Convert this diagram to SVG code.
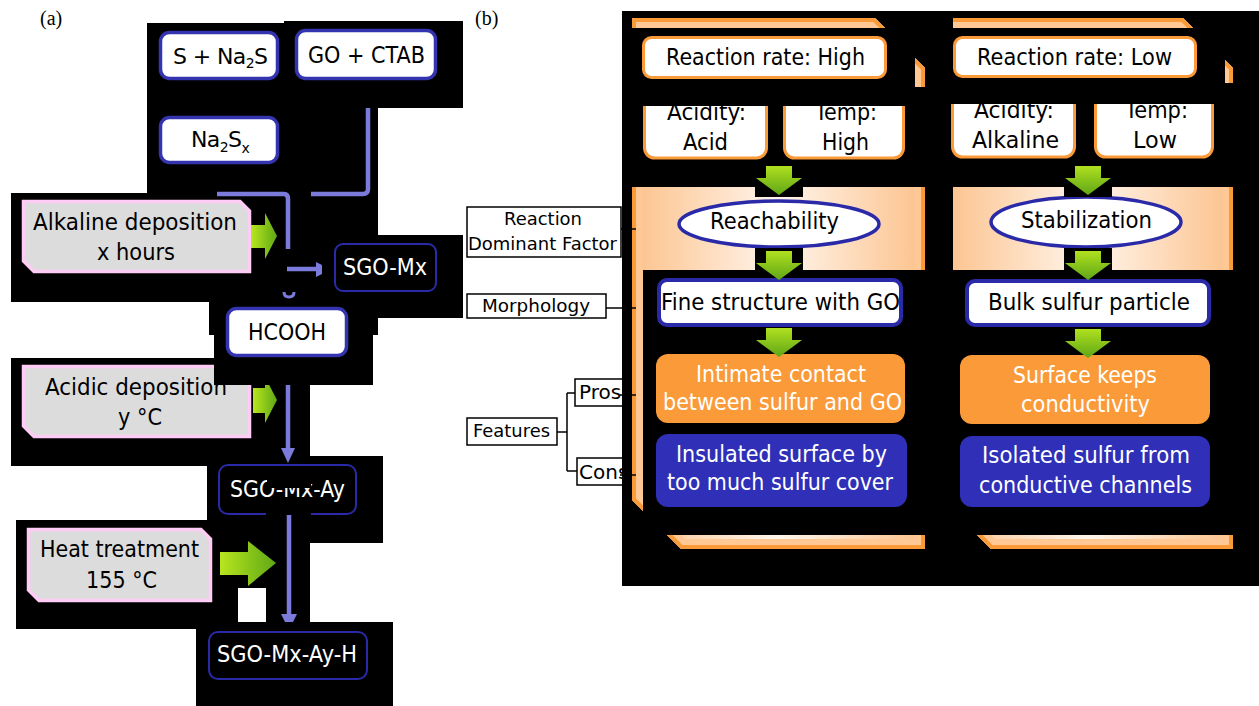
<svg xmlns="http://www.w3.org/2000/svg" width="1259" height="706" viewBox="0 0 1259 706">
<style>
.t{font-family:"DejaVu Sans",sans-serif;font-size:22.5px;text-anchor:middle;fill:#000}
.w{fill:#fff}
.s{text-anchor:start}
.sub{font-size:22px;letter-spacing:-0.6px}
.lb{font-size:18px}
.pc{font-size:20px}
.pl{font-family:"Liberation Serif",serif;font-size:20px;fill:#000}
.k{fill:#000}
.nb{fill:#fff;stroke:#3434b0;stroke-width:3.5}
.nd{fill:none;stroke:#2a2aa8;stroke-width:2}
.pk{fill:#dcdcdc;stroke:#ffccf5;stroke-width:3.5}
.no{fill:#fff;stroke:#fb9a38;stroke-width:3}
.el{fill:#fff;stroke:#2a2aa8;stroke-width:3.5}
.fo{fill:#fb9a38}
.fb{fill:#2f2fb8}
.lab{fill:#fff;stroke:#000;stroke-width:1.5}
.con{stroke:#7b7bdc;stroke-width:4.5;fill:none}
.cf{fill:#7b7bdc}
.ln{stroke:#000;stroke-width:1.5;fill:none}
.ga{fill:url(#gr)}
.gd{fill:url(#gdn)}
</style>
<defs>
<linearGradient id="gr" x1="0" y1="0" x2="1" y2="0"><stop offset="0" stop-color="#b8e61e"/><stop offset="1" stop-color="#5fa816"/></linearGradient>
<linearGradient id="gdn" x1="0" y1="0" x2="0" y2="1"><stop offset="0" stop-color="#b0e020"/><stop offset="1" stop-color="#5fa616"/></linearGradient>
<linearGradient id="band" x1="0" y1="0" x2="1" y2="0"><stop offset="0" stop-color="#fcc28c"/><stop offset="0.5" stop-color="#fff5ec"/><stop offset="1" stop-color="#fcc28c"/></linearGradient>
<clipPath id="c1"><path d="M632,18 H875 L925,68 V549 H681 L632,500 Z"/></clipPath>
<clipPath id="c2"><path d="M943,18 H1183 L1233,68 V549 H991 L943,501 Z"/></clipPath>
</defs>
<rect width="1259" height="706" fill="#fff"/>
<text class="pl" x="40" y="25">(a)</text>
<text class="pl" x="475" y="25">(b)</text>

<g id="backdrop-a">
<rect class="k" x="147" y="23" width="137" height="170"/>
<rect class="k" x="284" y="21" width="179" height="87"/>
<rect class="k" x="284" y="108" width="94" height="127"/>
<rect class="k" x="11" y="193" width="289" height="109"/>
<rect class="k" x="290" y="235" width="173" height="83"/>
<rect class="k" x="209" y="302" width="169" height="33"/>
<rect class="k" x="214" y="335" width="159" height="23"/>
<rect class="k" x="11" y="358" width="299" height="108"/>
<rect class="k" x="207" y="456" width="176" height="87"/>
<path class="k" fill-rule="evenodd" d="M16,520 H310 V629 H16 Z M238,588 V622 H266 V588 Z"/>
<rect class="k" x="196" y="622" width="197" height="84"/>
</g>

<g id="label-reaction">
<rect class="lab" x="467" y="207" width="154" height="50"/>
<text class="t lb" x="543" y="225" textLength="78" lengthAdjust="spacingAndGlyphs">Reaction</text>
<text class="t lb" x="542.5" y="250" textLength="149" lengthAdjust="spacingAndGlyphs">Dominant Factor</text>
</g>
<g id="label-morphology">
<rect class="lab" x="467" y="294" width="139" height="24"/>
<text class="t lb" x="536" y="312" textLength="108" lengthAdjust="spacingAndGlyphs">Morphology</text>
</g>
<g id="label-features">
<rect class="lab" x="467" y="418" width="90" height="27"/>
<text class="t lb" x="511.5" y="437" textLength="77" lengthAdjust="spacingAndGlyphs">Features</text>
</g>
<g id="label-pros">
<rect class="lab" x="575" y="379" width="70" height="27"/>
<text class="t pc s" x="579" y="399">Pros</text>
</g>
<g id="label-cons">
<rect class="lab" x="577" y="458" width="70" height="27"/>
<text class="t pc s" x="579" y="479">Cons</text>
</g>

<g id="backdrop-b">
<rect class="k" x="622" y="11" width="637" height="575"/>
</g>

<g id="frame-high">
<path d="M632,18 H875 L925,68 V549 H681 L632,500 Z" fill="url(#band)"/>
<path d="M632,18 H875 L925,68 V549 H681 L632,500 Z" fill="none" stroke="#ffc894" stroke-width="20" clip-path="url(#c1)"/>
<path d="M632,18 H875 L925,68 V549 H681 L632,500 Z" fill="none" stroke="#fb9a38" stroke-width="8" clip-path="url(#c1)"/>
</g>
<g id="frame-low">
<path d="M943,18 H1183 L1233,68 V549 H991 L943,501 Z" fill="url(#band)"/>
<path d="M943,18 H1183 L1233,68 V549 H991 L943,501 Z" fill="none" stroke="#ffc894" stroke-width="20" clip-path="url(#c2)"/>
<path d="M943,18 H1183 L1233,68 V549 H991 L943,501 Z" fill="none" stroke="#fb9a38" stroke-width="8" clip-path="url(#c2)"/>
</g>

<g id="backdrop-b-overlays">
<rect class="k" x="622" y="28" width="293" height="159"/>
<rect class="k" x="905" y="87" width="48" height="100"/>
<rect class="k" x="643" y="270" width="310" height="265"/>
<rect class="k" x="926" y="11" width="27" height="575"/>
<rect class="k" x="953" y="28" width="272" height="159"/>
<rect class="k" x="1215" y="83" width="44" height="104"/>
<rect class="k" x="953" y="270" width="306" height="265"/>
</g>

<g id="node-s-na2s">
<rect class="nb" x="160.5" y="32.5" width="117" height="46" rx="9"/>
<text class="t s sub" x="173" y="64">S + Na<tspan font-size="14" dy="4">2</tspan><tspan dy="-4">S</tspan></text>
</g>
<g id="node-go-ctab">
<rect class="nb" x="296.5" y="30.5" width="139" height="48" rx="9"/>
<text class="t" x="366.5" y="63" textLength="117" lengthAdjust="spacingAndGlyphs">GO + CTAB</text>
</g>
<g id="node-na2sx">
<rect class="nb" x="160.5" y="117.5" width="117" height="45" rx="9"/>
<text class="t s sub" x="191" y="147">Na<tspan font-size="14" dy="5">2</tspan><tspan dy="-5">S</tspan><tspan font-size="14" dy="6">x</tspan></text>
</g>
<g id="node-alkaline">
<path class="pk" d="M23.5,201.5 H240 L249.5,211 V271.5 H34 L23.5,261 Z"/>
<text class="t" x="135" y="230" textLength="204" lengthAdjust="spacingAndGlyphs">Alkaline deposition</text>
<text class="t" x="136" y="260" textLength="78" lengthAdjust="spacingAndGlyphs">x hours</text>
</g>
<g id="node-sgo-mx">
<rect class="nd" x="335" y="244" width="101" height="47" rx="8"/>
<text class="t w" x="385" y="275" textLength="84" lengthAdjust="spacingAndGlyphs">SGO-Mx</text>
</g>
<g id="node-hcooh">
<rect class="nb" x="227.5" y="308.5" width="119" height="47" rx="9"/>
<text class="t" x="287" y="340" textLength="78" lengthAdjust="spacingAndGlyphs">HCOOH</text>
</g>
<g id="node-acidic">
<path class="pk" d="M23.5,366.5 H240 L249.5,376 V436.5 H34 L23.5,426 Z"/>
<text class="t" x="136" y="395" textLength="182" lengthAdjust="spacingAndGlyphs">Acidic deposition</text>
<text class="t" x="140" y="425" textLength="44" lengthAdjust="spacingAndGlyphs">y °C</text>
</g>
<g id="node-sgo-mx-ay">
<rect class="nd" x="219" y="465" width="137" height="49" rx="9"/>
<text class="t w" x="287.5" y="497" textLength="115" lengthAdjust="spacingAndGlyphs">SGO-Mx-Ay</text>
</g>
<g id="node-heat">
<path class="pk" d="M28.5,529.5 H201 L210.5,539 V600.5 H39 L28.5,590 Z"/>
<text class="t" x="119.5" y="557" textLength="159" lengthAdjust="spacingAndGlyphs">Heat treatment</text>
<text class="t" x="121.5" y="588" textLength="71" lengthAdjust="spacingAndGlyphs">155 °C</text>
</g>
<g id="node-sgo-mx-ay-h">
<rect class="nd" x="209" y="632" width="158" height="47" rx="9"/>
<text class="t w" x="287" y="662" textLength="140" lengthAdjust="spacingAndGlyphs">SGO-Mx-Ay-H</text>
</g>

<g id="node-rate-high">
<rect class="no" x="643.5" y="37.5" width="242" height="40" rx="8"/>
<text class="t" x="765.5" y="65" textLength="199" lengthAdjust="spacingAndGlyphs">Reaction rate: High</text>
</g>
<g id="node-acidity-acid">
<rect class="no" x="644.5" y="92" width="122" height="66" rx="10"/>
<text class="t" x="706.5" y="120" textLength="79" lengthAdjust="spacingAndGlyphs">Acidity:</text>
<text class="t" x="705.5" y="150" textLength="45" lengthAdjust="spacingAndGlyphs">Acid</text>
</g>
<g id="node-temp-high">
<rect class="no" x="784.5" y="92" width="119" height="66" rx="10"/>
<text class="t" x="846" y="120" textLength="62" lengthAdjust="spacingAndGlyphs">Temp:</text>
<text class="t" x="845.5" y="150" textLength="47" lengthAdjust="spacingAndGlyphs">High</text>
</g>
<g id="node-reachability">
<ellipse class="el" cx="779" cy="224" rx="100" ry="23"/>
<text class="t" x="774.5" y="229" textLength="129" lengthAdjust="spacingAndGlyphs">Reachability</text>
</g>
<g id="node-fine-structure">
<rect class="nb" x="659" y="280" width="242" height="45" rx="8" style="stroke-width:4;stroke:#2a2aa8"/>
<text class="t" x="780.5" y="310" textLength="239" lengthAdjust="spacingAndGlyphs">Fine structure with GO</text>
</g>
<g id="node-intimate">
<rect class="fo" x="656" y="354" width="249" height="69" rx="12"/>
<text class="t w" x="781" y="382" textLength="170" lengthAdjust="spacingAndGlyphs">Intimate contact</text>
<text class="t w" x="782.5" y="410" textLength="239" lengthAdjust="spacingAndGlyphs">between sulfur and GO</text>
</g>
<g id="node-insulated">
<rect class="fb" x="656" y="434" width="251" height="73" rx="12"/>
<text class="t w" x="781.5" y="462" textLength="211" lengthAdjust="spacingAndGlyphs">Insulated surface by</text>
<text class="t w" x="780" y="490" textLength="226" lengthAdjust="spacingAndGlyphs">too much sulfur cover</text>
</g>

<g id="node-rate-low">
<rect class="no" x="954.5" y="37.5" width="241" height="39" rx="8"/>
<text class="t" x="1074.5" y="65" textLength="195" lengthAdjust="spacingAndGlyphs">Reaction rate: Low</text>
</g>
<g id="node-acidity-alkaline">
<rect class="no" x="952.5" y="92" width="122" height="65" rx="10"/>
<text class="t" x="1014" y="118" textLength="80" lengthAdjust="spacingAndGlyphs">Acidity:</text>
<text class="t" x="1015.5" y="148" textLength="87" lengthAdjust="spacingAndGlyphs">Alkaline</text>
</g>
<g id="node-temp-low">
<rect class="no" x="1095.5" y="92" width="117" height="65" rx="10"/>
<text class="t" x="1156.5" y="118" textLength="63" lengthAdjust="spacingAndGlyphs">Temp:</text>
<text class="t" x="1155" y="148" textLength="44" lengthAdjust="spacingAndGlyphs">Low</text>
</g>
<g id="node-stabilization">
<ellipse class="el" cx="1086" cy="222" rx="95" ry="25"/>
<text class="t" x="1086.5" y="228" textLength="131" lengthAdjust="spacingAndGlyphs">Stabilization</text>
</g>
<g id="node-bulk">
<rect class="nb" x="967" y="281" width="242" height="44" rx="8" style="stroke-width:4;stroke:#2a2aa8"/>
<text class="t" x="1089" y="310" textLength="202" lengthAdjust="spacingAndGlyphs">Bulk sulfur particle</text>
</g>
<g id="node-surface">
<rect class="fo" x="960" y="355" width="250" height="69" rx="12"/>
<text class="t w" x="1085" y="383" textLength="144" lengthAdjust="spacingAndGlyphs">Surface keeps</text>
<text class="t w" x="1085.5" y="412" textLength="129" lengthAdjust="spacingAndGlyphs">conductivity</text>
</g>
<g id="node-isolated">
<rect class="fb" x="960" y="436" width="250" height="71" rx="12"/>
<text class="t w" x="1086" y="463" textLength="208" lengthAdjust="spacingAndGlyphs">Isolated sulfur from</text>
<text class="t w" x="1085.5" y="493" textLength="213" lengthAdjust="spacingAndGlyphs">conductive channels</text>
</g>

<g id="arrow-backs">
<rect class="k" x="755" y="160" width="48" height="37"/>
<rect class="k" x="755" y="248" width="48" height="24"/>
<rect class="k" x="1064" y="160" width="48" height="37"/>
<rect class="k" x="1064" y="248" width="48" height="24"/>
</g>
<g id="arrows">
<path class="ga" d="M251,225 H265 V213 L277,236 L265,259 V248 H251 Z"/>
<path class="ga" d="M253,388 H265 V377 L277,400 L265,423 V413 H253 Z"/>
<path class="ga" d="M220,552 H248 V541 L276,563 L248,586 V575 H220 Z"/>
<path class="gd" d="M766,166 H792 V178 H802 L779,195 L756,178 H766 Z"/>
<path class="gd" d="M766,251 H792 V263 H802 L779,280 L756,263 H766 Z"/>
<path class="gd" d="M766,328 H792 V340 H802 L779,357 L756,340 H766 Z"/>
<path class="gd" d="M1075,166 H1101 V178 H1111 L1088,195 L1065,178 H1075 Z"/>
<path class="gd" d="M1075,251 H1101 V263 H1111 L1088,280 L1065,263 H1075 Z"/>
<path class="gd" d="M1075,329 H1101 V341 H1111 L1088,358 L1065,341 H1075 Z"/>
</g>

<g id="late-overlays">
<rect class="k" x="214" y="358" width="159" height="27"/>
<rect class="k" x="267" y="467" width="44" height="21"/>
<rect class="k" x="266" y="511" width="45" height="8"/>
<rect class="k" x="630" y="80" width="280" height="26"/>
<rect class="k" x="945" y="80" width="275" height="24"/>
</g>

<g id="connectors">
<path class="con" d="M368,108 V189 Q368,194 363,194 H311"/>
<path class="con" d="M217,194 H284 Q288,194 288,199 V249"/>
<path class="con" d="M287,269 H317"/>
<polygon class="cf" points="316,262 322,265 322,274 316,277"/>
<path class="con" d="M284,292 Q284,297 289,297 Q294,297 294,292" style="stroke-width:3"/>
<path class="con" d="M288,385 V449"/>
<polygon class="cf" points="281,448 295,448 288,463"/>
<path class="con" d="M289,515 V614"/>
<polygon class="cf" points="281,614 297,614 293,622 285,622"/>
<path class="ln" d="M621,229 H636"/>
<path class="ln" d="M606,308 H636"/>
<path class="ln" d="M557,432 H567 M567,393 V471 M567,393 H575 M567,471 H577"/>
<path class="ln" d="M620,395 H636"/>
<path class="ln" d="M620,475 H636"/>
</g>
</svg>
